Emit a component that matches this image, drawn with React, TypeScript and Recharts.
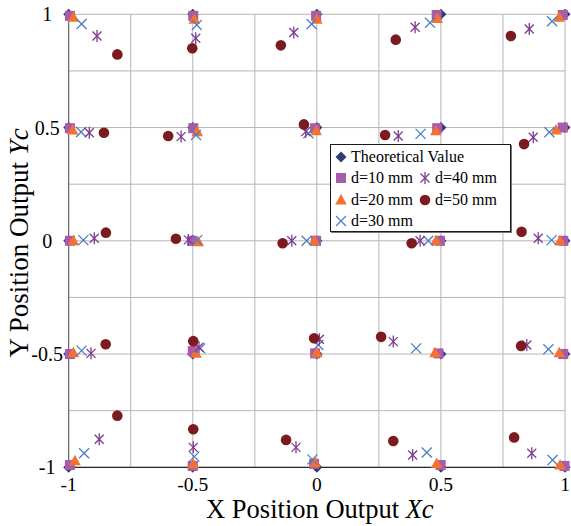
import React from 'react';
import { ScatterChart, Scatter, XAxis, YAxis, CartesianGrid, Legend, Label } from 'recharts';

const FONT = '"Liberation Serif", "Times New Roman", serif';

const gridTicks = [-1, -0.75, -0.5, -0.25, 0, 0.25, 0.5, 0.75, 1];
const labelTicks = [-1, -0.5, 0, 0.5, 1];

const seriesNames = ['Theoretical Value', 'd=10 mm', 'd=20 mm', 'd=30 mm', 'd=40 mm', 'd=50 mm'];

const theoryX = [-1, -0.5, 0, 0.5, 1, -1, -0.5, 0, 0.5, 1, -1, -0.5, 0, 0.5, 1, -1, -0.5, 0, 0.5, 1, -1, -0.5, 0, 0.5, 1];
const theoryY = [1, 1, 1, 1, 1, 0.5, 0.5, 0.5, 0.5, 0.5, 0, 0, 0, 0, 0, -0.5, -0.5, -0.5, -0.5, -0.5, -1, -1, -1, -1, -1];

const d10X = [-0.995, -0.498, -0.003, 0.483, 0.991, -0.995, -0.498, -0.007, 0.485, 0.991, -0.995, -0.502, -0.003, 0.496, 0.993, -0.995, -0.5, -0.007, 0.49, 0.993, -0.995, -0.5, -0.011, 0.499, 0.998];
const d10Y = [0.993, 0.993, 0.993, 0.997, 0.997, 0.497, 0.497, 0.497, 0.497, 0.5, 0, 0, 0, 0, 0, -0.5, -0.487, -0.497, -0.497, -0.5, -0.99, -0.994, -0.985, -0.99, -0.994];

const d20X = [-0.981, -0.494, 0, 0.485, 0.977, -0.984, -0.482, -0.003, 0.48, 0.964, -0.981, -0.478, -0.01, 0.48, 0.98, -0.981, -0.487, 0, 0.476, 0.977, -0.975, -0.498, -0.007, 0.483, 0.98];
const d20Y = [0.987, 0.978, 0.978, 0.982, 0.987, 0.489, 0.482, 0.486, 0.486, 0.489, 0, -0.004, 0, 0, 0, -0.494, -0.497, -0.494, -0.494, -0.494, -0.971, -0.985, -0.98, -0.983, -0.99];

const d30X = [-0.948, -0.484, -0.021, 0.456, 0.948, -0.95, -0.487, -0.034, 0.418, 0.937, -0.941, -0.482, -0.041, 0.449, 0.946, -0.948, -0.47, 0.006, 0.4, 0.933, -0.938, -0.494, -0.018, 0.443, 0.95];
const d30Y = [0.957, 0.953, 0.957, 0.963, 0.969, 0.48, 0.467, 0.475, 0.472, 0.479, 0.003, 0.003, 0, 0, 0.003, -0.485, -0.475, -0.46, -0.475, -0.479, -0.938, -0.953, -0.965, -0.935, -0.968];

const d40X = [-0.886, -0.488, -0.093, 0.396, 0.856, -0.917, -0.547, -0.045, 0.328, 0.872, -0.897, -0.518, -0.101, 0.416, 0.892, -0.91, -0.475, 0.01, 0.308, 0.846, -0.877, -0.498, -0.084, 0.386, 0.866];
const d40Y = [0.904, 0.894, 0.92, 0.943, 0.935, 0.477, 0.46, 0.482, 0.463, 0.457, 0.011, 0.004, 0, 0, 0.011, -0.497, -0.47, -0.435, -0.445, -0.46, -0.876, -0.912, -0.912, -0.946, -0.938];

const d50X = [-0.804, -0.502, -0.145, 0.318, 0.782, -0.858, -0.599, -0.052, 0.275, 0.835, -0.85, -0.568, -0.138, 0.382, 0.825, -0.851, -0.498, -0.011, 0.259, 0.823, -0.804, -0.498, -0.124, 0.308, 0.795];
const d50Y = [0.823, 0.85, 0.863, 0.888, 0.904, 0.477, 0.463, 0.514, 0.467, 0.427, 0.036, 0.009, -0.011, -0.011, 0.04, -0.457, -0.443, -0.43, -0.424, -0.464, -0.772, -0.832, -0.879, -0.884, -0.868];

const toPoints = (xs: number[], ys: number[]) => xs.map((x, i) => ({ x, y: ys[i] }));

const COLORS = ['#323C78', '#A45CAB', '#F47130', '#4D7FC6', '#7E3B90', '#7B1B1F'];

const drawMarker = (kind: number, cx: number, cy: number) => {
  const c = COLORS[kind];
  switch (kind) {
    case 0:
      return <path d={`M${cx},${cy - 5.5}L${cx + 5.5},${cy}L${cx},${cy + 5.5}L${cx - 5.5},${cy}Z`} fill={c} />;
    case 1:
      return <rect x={cx - 5} y={cy - 5} width={10} height={10} fill={c} />;
    case 2:
      return <path d={`M${cx},${cy - 6}L${cx + 5.8},${cy + 4.5}L${cx - 5.8},${cy + 4.5}Z`} fill={c} />;
    case 3:
      return (
        <g stroke={c} strokeWidth={1.3}>
          <line x1={cx - 5} y1={cy - 5} x2={cx + 5} y2={cy + 5} />
          <line x1={cx - 5} y1={cy + 5} x2={cx + 5} y2={cy - 5} />
        </g>
      );
    case 4:
      return (
        <g stroke={c} strokeWidth={1.3}>
          <line x1={cx - 4.5} y1={cy - 4.5} x2={cx + 4.5} y2={cy + 4.5} />
          <line x1={cx - 4.5} y1={cy + 4.5} x2={cx + 4.5} y2={cy - 4.5} />
          <line x1={cx} y1={cy - 6} x2={cx} y2={cy + 6} />
        </g>
      );
    default:
      return <circle cx={cx} cy={cy} r={5.3} fill={c} />;
  }
};

const shapeFor = (kind: number) => (props: any) => drawMarker(kind, props.cx, props.cy);

const series = [
  toPoints(theoryX, theoryY),
  toPoints(d10X, d10Y),
  toPoints(d20X, d20Y),
  toPoints(d30X, d30Y),
  toPoints(d40X, d40Y),
  toPoints(d50X, d50Y),
];

const fmt = (v: number) => (labelTicks.includes(v) ? String(v) : '');

const XTick = (props: any) => {
  const { x, y, payload } = props;
  return (
    <text x={x} y={y} textAnchor="middle" dominantBaseline="central" fontFamily={FONT} fontSize={19.5} fill="#000">
      {fmt(payload.value)}
    </text>
  );
};

const YTick = (props: any) => {
  const { x, y, payload } = props;
  return (
    <text x={x} y={y} textAnchor="middle" dominantBaseline="central" fontFamily={FONT} fontSize={20} fill="#000">
      {fmt(payload.value)}
    </text>
  );
};

const legendLayout = [
  { idx: 0, col: 0, row: 0 },
  { idx: 1, col: 0, row: 1 },
  { idx: 4, col: 1, row: 1 },
  { idx: 2, col: 0, row: 2 },
  { idx: 5, col: 1, row: 2 },
  { idx: 3, col: 0, row: 3 },
];

const LegendBox = () => (
  <div
    style={{
      position: 'relative',
      width: 179,
      height: 86,
      border: '1px solid #1a1a1a',
      boxShadow: '1px 1px 0 #777',
      background: '#fff',
      fontFamily: FONT,
      fontSize: 16,
      color: '#000',
    }}
  >
    {legendLayout.map(({ idx, col, row }) => (
      <div
        key={idx}
        style={{
          position: 'absolute',
          left: col === 0 ? 3 : 87,
          top: 2 + row * 21.3,
          height: 20,
          display: 'flex',
          alignItems: 'center',
          whiteSpace: 'nowrap',
        }}
      >
        <svg width={14} height={14} style={{ marginRight: 3 }}>
          {drawMarker(idx, 7, 7)}
        </svg>
        <span>{seriesNames[idx]}</span>
      </div>
    ))}
  </div>
);

export default function App() {
  return (
    <div style={{ position: 'absolute', left: 0, top: 0, width: 571, height: 526, background: '#fff' }}>
      <ScatterChart width={571} height={526} margin={{ top: 14.3, right: 6, bottom: 0, left: 0 }}>
        <CartesianGrid stroke="#B5B5B5" strokeWidth={1} />
        <XAxis
          type="number"
          dataKey="x"
          domain={[-1, 1]}
          ticks={gridTicks}
          interval={0}
          height={58.7}
          tickSize={0}
          tickMargin={17.2}
          tickLine={false}
          axisLine={{ stroke: '#000', strokeWidth: 1 }}
          tick={<XTick />}
        >
          <Label
            content={(p: any) => {
              const vb = p.viewBox || { x: 68.7, y: 467.3, width: 496.3 };
              return (
                <text x={vb.x + vb.width / 2 + 3} y={vb.y + 50.6} textAnchor="middle" fontFamily={FONT} fontSize={26.5} fill="#000">
                  X Position Output <tspan fontStyle="italic">Xc</tspan>
                </text>
              );
            }}
          />
        </XAxis>
        <YAxis
          type="number"
          dataKey="y"
          domain={[-1, 1]}
          ticks={gridTicks}
          interval={0}
          width={68.7}
          tickSize={0}
          tickMargin={21.5}
          tickLine={false}
          axisLine={{ stroke: '#595959', strokeWidth: 1 }}
          tick={<YTick />}
        >
          <Label
            content={(p: any) => {
              const vb = p.viewBox || { x: 0, y: 14.3, width: 68.7, height: 453 };
              const cx = 28;
              const cy = vb.y + vb.height / 2 + 2;
              return (
                <text x={cx} y={cy} transform={`rotate(-90, ${cx}, ${cy})`} textAnchor="middle" fontFamily={FONT} fontSize={27} fill="#000">
                  Y Position Output <tspan fontStyle="italic">Yc</tspan>
                </text>
              );
            }}
          />
        </YAxis>
        {series.map((pts, i) => (
          <Scatter key={i} name={seriesNames[i]} data={pts} shape={shapeFor(i)} isAnimationActive={false} />
        ))}
        <Legend
          layout="vertical"
          align="center"
          verticalAlign="middle"
          wrapperStyle={{ left: 330, top: 144, width: 181, height: 88 }}
          content={() => <LegendBox />}
        />
      </ScatterChart>
    </div>
  );
}
